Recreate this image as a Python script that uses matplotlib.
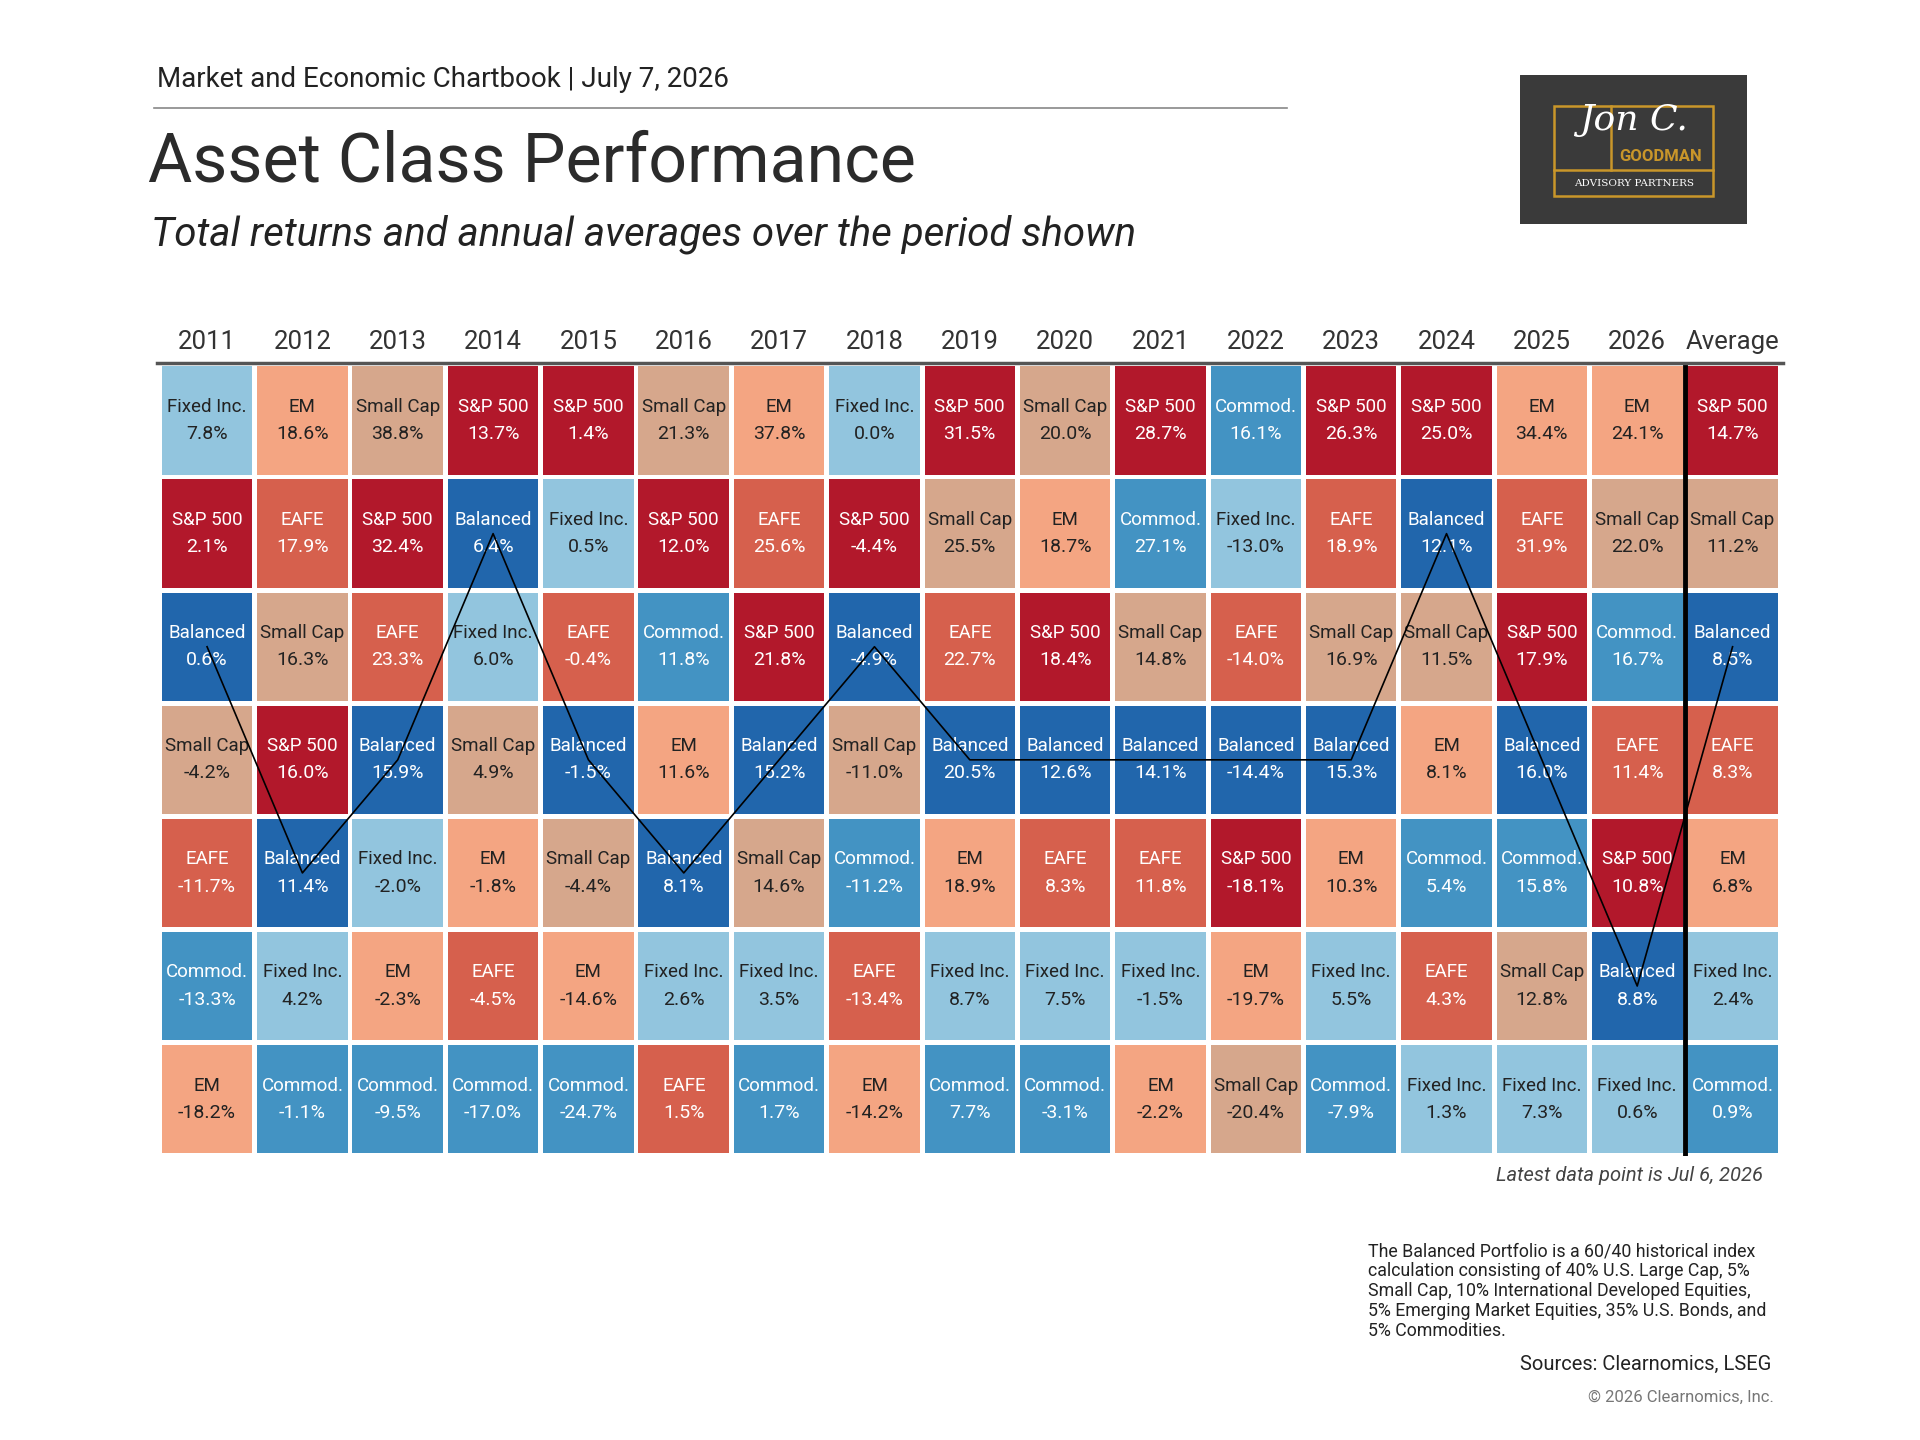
import matplotlib
matplotlib.use("Agg")
import matplotlib.pyplot as plt
from matplotlib.patches import Rectangle

plt.rcParams['font.family'] = ['Roboto', 'DejaVu Sans']

years = ["2011","2012","2013","2014","2015","2016","2017","2018","2019","2020","2021","2022","2023","2024","2025","2026","Average"]
names = [
 ["Fixed Inc.","S&P 500","Balanced","Small Cap","EAFE","Commod.","EM"],
 ["EM","EAFE","Small Cap","S&P 500","Balanced","Fixed Inc.","Commod."],
 ["Small Cap","S&P 500","EAFE","Balanced","Fixed Inc.","EM","Commod."],
 ["S&P 500","Balanced","Fixed Inc.","Small Cap","EM","EAFE","Commod."],
 ["S&P 500","Fixed Inc.","EAFE","Balanced","Small Cap","EM","Commod."],
 ["Small Cap","S&P 500","Commod.","EM","Balanced","Fixed Inc.","EAFE"],
 ["EM","EAFE","S&P 500","Balanced","Small Cap","Fixed Inc.","Commod."],
 ["Fixed Inc.","S&P 500","Balanced","Small Cap","Commod.","EAFE","EM"],
 ["S&P 500","Small Cap","EAFE","Balanced","EM","Fixed Inc.","Commod."],
 ["Small Cap","EM","S&P 500","Balanced","EAFE","Fixed Inc.","Commod."],
 ["S&P 500","Commod.","Small Cap","Balanced","EAFE","Fixed Inc.","EM"],
 ["Commod.","Fixed Inc.","EAFE","Balanced","S&P 500","EM","Small Cap"],
 ["S&P 500","EAFE","Small Cap","Balanced","EM","Fixed Inc.","Commod."],
 ["S&P 500","Balanced","Small Cap","EM","Commod.","EAFE","Fixed Inc."],
 ["EM","EAFE","S&P 500","Balanced","Commod.","Small Cap","Fixed Inc."],
 ["EM","Small Cap","Commod.","EAFE","S&P 500","Balanced","Fixed Inc."],
 ["S&P 500","Small Cap","Balanced","EAFE","EM","Fixed Inc.","Commod."],
]
values = [
 [7.8,2.1,0.6,-4.2,-11.7,-13.3,-18.2],
 [18.6,17.9,16.3,16.0,11.4,4.2,-1.1],
 [38.8,32.4,23.3,15.9,-2.0,-2.3,-9.5],
 [13.7,6.4,6.0,4.9,-1.8,-4.5,-17.0],
 [1.4,0.5,-0.4,-1.5,-4.4,-14.6,-24.7],
 [21.3,12.0,11.8,11.6,8.1,2.6,1.5],
 [37.8,25.6,21.8,15.2,14.6,3.5,1.7],
 [0.0,-4.4,-4.9,-11.0,-11.2,-13.4,-14.2],
 [31.5,25.5,22.7,20.5,18.9,8.7,7.7],
 [20.0,18.7,18.4,12.6,8.3,7.5,-3.1],
 [28.7,27.1,14.8,14.1,11.8,-1.5,-2.2],
 [16.1,-13.0,-14.0,-14.4,-18.1,-19.7,-20.4],
 [26.3,18.9,16.9,15.3,10.3,5.5,-7.9],
 [25.0,12.1,11.5,8.1,5.4,4.3,1.3],
 [34.4,31.9,17.9,16.0,15.8,12.8,7.3],
 [24.1,22.0,16.7,11.4,10.8,8.8,0.6],
 [14.7,11.2,8.5,8.3,6.8,2.4,0.9],
]
colors = {"Fixed Inc.":"#92c5de","EM":"#f4a582","Small Cap":"#d6a78c","S&P 500":"#b2182b",
          "EAFE":"#d6604d","Balanced":"#2166ac","Commod.":"#4393c3"}
textcol = {"Fixed Inc.":"#222222","EM":"#222222","Small Cap":"#222222","S&P 500":"white",
           "EAFE":"white","Balanced":"white","Commod.":"white"}

W, H = 1566, 1175
fig = plt.figure(figsize=(19.2, 14.4), dpi=100)
def fx(x): return x / W
def fy(y): return 1 - y / H

fig.text(fx(128), fy(65), "Market and Economic Chartbook | July 7, 2026", fontsize=20,
         color="#222222", va="center", ha="left")
fig.add_artist(plt.Line2D([fx(126), fx(1050)], [fy(88), fy(88)], color="#888888", lw=1.2))
fig.text(fx(121), fy(133), "Asset Class Performance", fontsize=49, color="#2b2b2b",
         va="center", ha="left")
fig.text(fx(123), fy(191), "Total returns and annual averages over the period shown",
         fontsize=29, style="italic", color="#222222", va="center", ha="left")

# Logo
lax = fig.add_axes([fx(1240), fy(183), fx(1425) - fx(1240), fy(61) - fy(183)])
lax.set_xlim(0, 1); lax.set_ylim(0, 1); lax.axis("off")
lax.add_patch(Rectangle((0, 0), 1, 1, color="#3a3a3a"))
gold = "#c9962a"
lax.add_patch(Rectangle((0.15, 0.19), 0.7, 0.6, fill=False, ec=gold, lw=1.8))
lax.plot([0.15, 0.85], [0.36, 0.36], color=gold, lw=1.8)
lax.plot([0.4, 0.4], [0.36, 0.79], color=gold, lw=1.8)
lax.text(0.62, 0.45, "GOODMAN", color=gold, fontsize=12, fontweight="bold", ha="center", va="center")
lax.text(0.5, 0.27, "ADVISORY PARTNERS", color="white", fontsize=7.5, family="DejaVu Serif",
         ha="center", va="center")
lax.text(0.5, 0.7, "Jon C.", color="white", fontsize=26, style="italic", family="DejaVu Serif",
         ha="center", va="center")

# Grid
ax = fig.add_axes([fx(130), fy(943), fx(1452) - fx(130), fy(297) - fy(943)])
ncol, nrow = len(years), 7
ax.set_xlim(0, ncol); ax.set_ylim(nrow, 0); ax.axis("off")
g = 0.025
bal_x, bal_y = [], []
for j in range(ncol):
    for i in range(nrow):
        n = names[j][i]; v = values[j][i]
        ax.add_patch(Rectangle((j + g, i + g*0.85), 1 - 2*g, 1 - 2*g*0.85, color=colors[n], lw=0))
        ax.text(j + 0.5, i + 0.38, n, ha="center", va="center", fontsize=13.5, color=textcol[n])
        ax.text(j + 0.5, i + 0.62, f"{v:.1f}%", ha="center", va="center", fontsize=14, color=textcol[n])
        if n == "Balanced":
            bal_x.append(j + 0.5); bal_y.append(i + 0.5)
ax.plot(bal_x, bal_y, color="black", lw=1.2, zorder=5)
ax.plot([ncol - 1, ncol - 1], [0, nrow], color="black", lw=3.5, zorder=6)

hax = fig.add_axes([fx(130), fy(296), fx(1452) - fx(130), fy(262) - fy(296)])
hax.set_xlim(0, ncol); hax.set_ylim(0, 1); hax.axis("off")
for j, y in enumerate(years):
    hax.text(j + 0.5, 0.5, y, ha="center", va="center", fontsize=18.5, color="#333333")
fig.add_artist(plt.Line2D([fx(128), fx(1454)], [fy(296), fy(296)], color="#555555", lw=2.5))

fig.text(fx(1438), fy(959), "Latest data point is Jul 6, 2026", fontsize=14.5, style="italic",
         color="#444444", ha="right", va="center")
fig.text(fx(1116), fy(1014),
         "The Balanced Portfolio is a 60/40 historical index\ncalculation consisting of 40% U.S. Large Cap, 5%\n"
         "Small Cap, 10% International Developed Equities,\n5% Emerging Market Equities, 35% U.S. Bonds, and\n5% Commodities.",
         fontsize=12.8, color="#222222", ha="left", va="top", linespacing=1.12)
fig.text(fx(1445), fy(1113), "Sources: Clearnomics, LSEG", fontsize=14.5, color="#222222", ha="right", va="center")
fig.text(fx(1447), fy(1140), "© 2026 Clearnomics, Inc.", fontsize=12, color="#777777", ha="right", va="center")

fig.savefig("out.png", dpi=100)
